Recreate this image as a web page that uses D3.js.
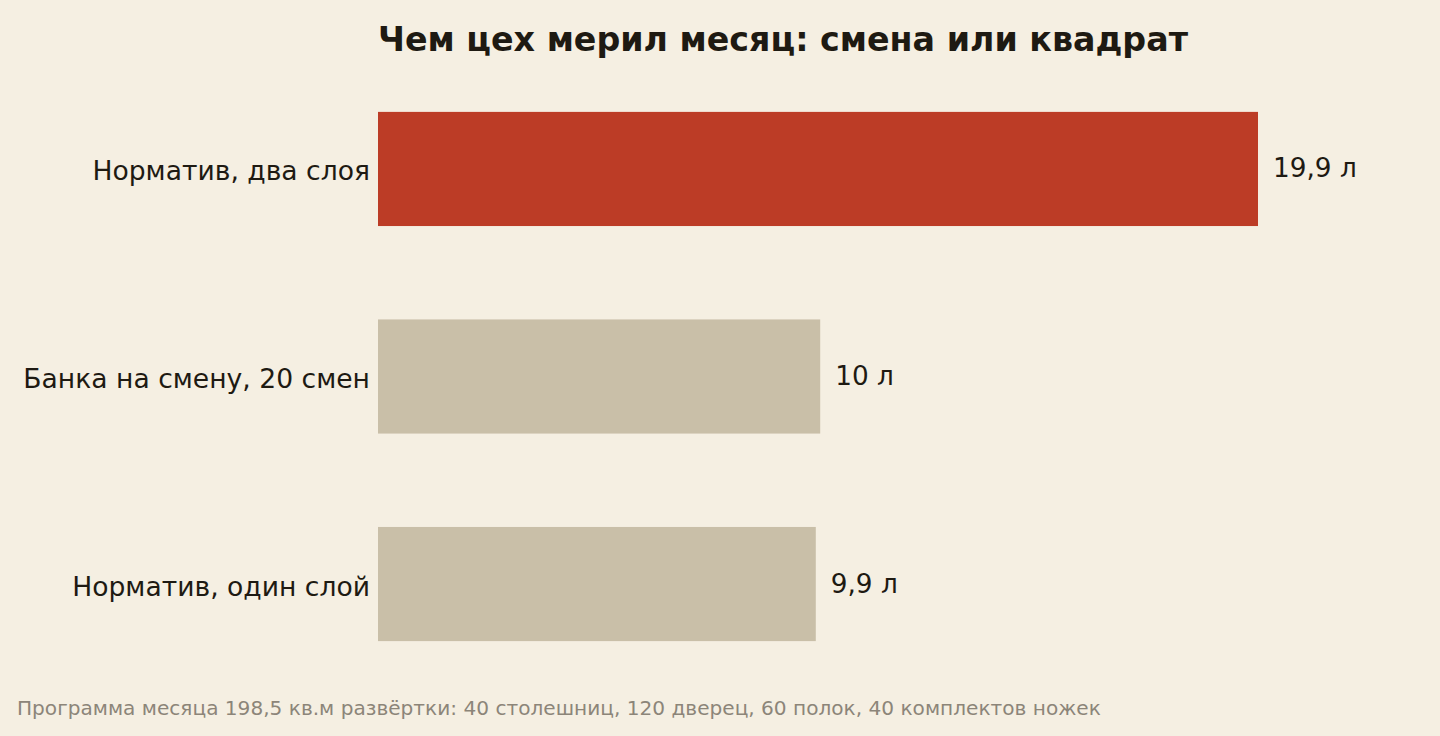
<!DOCTYPE html>
<html><head><meta charset="utf-8">
<script src="https://cdn.jsdelivr.net/npm/d3@7"></script>
<style>
html,body{margin:0;padding:0;background:#f5efe2;}
svg{display:block;font-family:"DejaVu Sans",sans-serif;}
</style></head><body>
<svg id="c" width="1440" height="736"></svg>
<script>
const categories = ["Норматив, два слоя", "Банка на смену, 20 смен", "Норматив, один слой"];
const values = [19.9, 10, 9.9];
const valueLabels = ["19,9 л", "10 л", "9,9 л"];
const highlight = [true, false, false];
const title = "Чем цех мерил месяц: смена или квадрат";
const footnote = "Программа месяца 198,5 кв.м развёртки: 40 столешниц, 120 дверец, 60 полок, 40 комплектов ножек";

const svg = d3.select("#c");
const W = 1440, H = 736;
svg.append("rect").attr("width", W).attr("height", H).attr("fill", "#f5efe2");

const x = d3.scaleLinear().domain([0, 19.9]).range([378, 1258]);
const y = d3.scaleBand().domain(categories).range([18.5, 734.5]).paddingInner(0.45).paddingOuter(0.45);

svg.append("text").attr("x", 378).attr("y", 51)
  .attr("font-size", 33.3).attr("font-weight", "bold").attr("fill", "#1e1a12").text(title);

const data = categories.map((c, i) => ({c, v: values[i], l: valueLabels[i], h: highlight[i]}));

svg.selectAll("rect.bar").data(data).join("rect").attr("class", "bar")
  .attr("x", x(0)).attr("y", d => y(d.c))
  .attr("width", d => x(d.v) - x(0)).attr("height", y.bandwidth())
  .attr("fill", d => d.h ? "#bc3c26" : "#c9bfa8");

svg.selectAll("text.cat").data(data).join("text").attr("class", "cat")
  .attr("x", 370).attr("y", d => y(d.c) + y.bandwidth() / 2 + 4)
  .attr("text-anchor", "end").attr("dominant-baseline", "middle")
  .attr("font-size", 26.6).attr("fill", "#1e1a12").text(d => d.c);

svg.selectAll("text.val").data(data).join("text").attr("class", "val")
  .attr("x", d => x(d.v) + 15).attr("y", d => y(d.c) + y.bandwidth() / 2 + 1)
  .attr("dominant-baseline", "middle")
  .attr("font-size", 26.3).attr("fill", "#1e1a12").text(d => d.l);

svg.append("text").attr("x", 17).attr("y", 715)
  .attr("font-size", 20.1).attr("fill", "#8c8579").text(footnote);
</script></body></html>
